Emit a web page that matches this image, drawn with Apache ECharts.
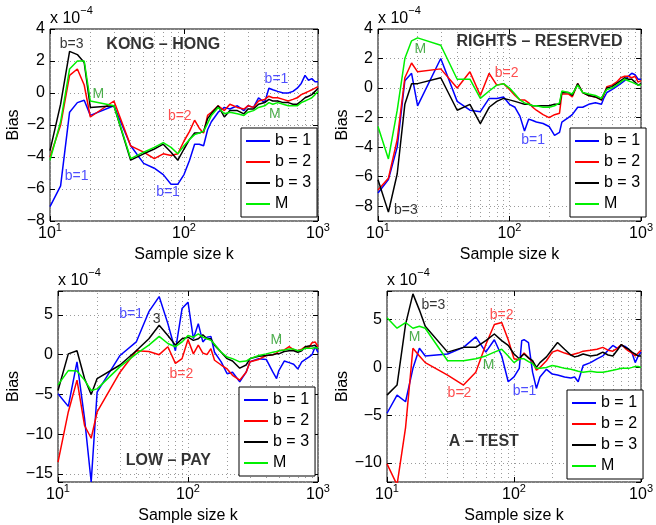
<!DOCTYPE html>
<html><head><meta charset="utf-8">
<script src="https://cdn.jsdelivr.net/npm/echarts@6/dist/echarts.min.js"></script>
<style>html,body{margin:0;padding:0;background:#fff}#c{width:656px;height:525px}</style>
</head><body><div id="c"></div>
<script>
// ---------- DATA (values in units of 1e-4) ----------
const SERIES_NAMES = ['b = 1', 'b = 2', 'b = 3', 'M'];
const X_TICKS = [10, 100, 1000];
const MINOR_X = [20,30,40,50,60,70,80,90,200,300,400,500,600,700,800,900];

// Panel 1: KONG – HONG
const K1 = [10,12,14,16,18,20,30,40,50,60,70,80,90,100,110,120,130,140,150,160,180,200,220,250,280,300,330,360,400,430,460,500,550,600,650,700,750,800,850,900,950,1000];
const P1_b1 = [-7.1,-5.8,-1.2,-0.6,-0.45,-1.4,-0.8,-3.3,-4.4,-4.7,-5.1,-5.7,-5.7,-5.1,-4.2,-3.2,-3.2,-3.3,-2.3,-1.8,-1.2,-0.9,-1.0,-0.8,-1.1,-0.8,-0.9,-0.3,-0.6,0.3,0.2,0.1,0.0,0.0,0.1,0.3,0.6,1.1,0.8,0.9,0.7,0.7];
const P1_b2 = [-4.0,-2.0,1.1,1.5,0.5,-1.5,-0.5,-3.3,-3.7,-4.1,-3.8,-3.9,-3.8,-3.0,-2.4,-1.7,-2.2,-2.5,-1.4,-1.2,-0.8,-1.1,-0.7,-0.9,-1.0,-0.8,-0.9,-0.5,-0.4,-0.2,-0.3,-0.3,-0.4,-0.5,-0.4,-0.3,-0.1,0.0,0.1,0.2,0.3,0.4];
const P1_b3 = [-3.6,-0.7,2.6,2.4,1.9,-0.9,-0.8,-4.2,-3.8,-3.5,-3.2,-3.7,-4.2,-3.5,-2.9,-2.5,-2.5,-2.4,-1.6,-1.3,-0.8,-1.5,-1.1,-1.1,-1.3,-1.0,-1.0,-0.7,-0.6,-0.4,-0.5,-0.5,-0.6,-0.6,-0.7,-0.7,-0.5,-0.3,-0.2,-0.1,0.1,0.3];
const P1_M  = [-4.2,-1.8,1.5,2.0,2.0,-0.5,-0.8,-4.1,-3.7,-3.4,-3.1,-3.4,-3.8,-3.3,-2.9,-2.6,-2.5,-2.4,-1.9,-1.4,-0.9,-1.3,-1.2,-1.3,-1.4,-1.2,-1.1,-0.9,-0.8,-0.6,-0.7,-0.6,-0.7,-0.8,-0.8,-0.8,-0.6,-0.5,-0.4,-0.3,-0.1,0.1];

// Panel 2: RIGHTS – RESERVED
const K2 = [10,12,14,16,18,20,30,40,50,60,70,80,90,100,110,120,130,140,150,160,180,200,220,240,250,280,300,330,360,400,450,500,520,550,600,650,700,750,800,850,900,950,1000];
const P2_b1 = [-7.1,-6.2,-4.0,0.5,1.0,-1.2,2.0,-0.9,-1.5,-1.6,-0.7,-0.7,-0.6,-1.1,-1.3,-1.9,-2.9,-2.1,-2.2,-2.3,-2.4,-2.6,-3.2,-3.0,-2.3,-2.0,-1.8,-1.3,-1.3,-1.1,-1.0,-1.1,-0.7,-0.3,-0.1,0.1,0.3,0.5,0.8,1.0,0.9,0.6,0.6];
const P2_b2 = [-6.9,-6.1,-3.5,0.7,1.7,1.1,1.3,0.0,1.1,-0.5,1.0,0.2,0.3,-0.1,-0.5,-0.8,-0.8,-1.0,-1.3,-1.5,-1.8,-2.0,-1.8,-1.7,-0.4,-0.4,-0.6,0.3,-0.3,-0.5,-0.6,-0.8,-0.5,0.1,0.2,0.4,0.7,0.8,0.8,0.7,0.8,0.4,0.5];
const P2_b3 = [-6.2,-8.4,-5.8,-1.1,0.3,0.3,0.7,-1.5,-1.1,-2.4,-1.3,-0.9,-0.7,-0.8,-0.9,-1.0,-1.1,-1.1,-1.2,-1.2,-1.2,-1.2,-1.1,-1.1,-0.3,-0.3,-0.5,0.3,-0.3,-0.5,-0.6,-0.8,-0.4,0.0,0.1,0.3,0.5,0.7,0.6,0.6,0.4,0.2,0.3];
const P2_M  = [-2.6,-4.8,-1.5,2.0,3.2,3.4,2.9,0.6,0.6,-0.7,-0.2,0.2,0.3,0.0,-0.4,-0.8,-1.0,-1.1,-1.2,-1.2,-1.3,-1.3,-1.2,-1.0,-0.2,-0.3,-0.4,0.2,-0.3,-0.4,-0.5,-0.7,-0.4,-0.1,0.0,0.2,0.4,0.6,0.5,0.4,0.3,0.2,0.2];

// Panel 3: LOW – PAY
const K3 = [10,12,14,16,18,20,30,40,50,60,70,80,90,100,110,120,130,140,150,160,180,200,220,250,280,300,350,400,450,480,500,550,600,650,700,750,800,850,900,950,1000];
const P3_b1 = [-4.9,-6.5,-0.9,-8.0,-16.0,-4.7,-0.1,1.6,5.4,7.3,3.9,0.5,5.8,6.6,2.0,3.9,1.6,2.2,2.3,0.3,-0.9,-2.4,-2.2,-3.4,-2.2,-0.9,-0.5,-0.6,-2.2,-3.0,-2.0,-0.8,-1.0,-1.2,-1.8,-0.9,-0.6,-0.3,0.0,1.0,0.3];
const P3_b2 = [-13.5,-7.2,-3.2,-8.9,-10.5,-7.2,-2.2,0.5,0.4,0.0,1.0,-1.1,-0.5,1.9,0.1,1.2,0.2,0.0,0.75,-0.7,-1.3,-1.8,-2.6,-3.2,-2.2,-0.9,-0.6,-0.1,0.0,0.2,0.5,0.6,1.0,0.6,0.5,0.7,1.0,0.9,1.5,1.6,1.0];
const P3_b3 = [-4.5,0.1,0.5,-3.0,-5.0,-3.0,-1.3,0.5,2.0,3.7,2.4,1.2,2.0,2.2,1.8,2.0,2.5,2.0,2.0,1.2,0.3,-0.5,-0.8,-1.7,-1.3,-0.5,-0.2,-0.1,0.0,0.1,0.1,0.4,0.5,0.5,0.3,0.5,1.0,1.1,1.1,1.2,0.7];
const P3_M  = [-3.8,-2.0,-2.05,-3.2,-4.5,-4.3,-1.5,0.1,1.2,2.3,1.4,1.0,1.6,2.4,2.2,2.6,2.2,2.0,1.8,1.3,0.3,-0.3,-0.5,-0.9,-0.8,-0.5,-0.1,0.1,0.3,0.4,0.5,0.6,0.7,0.7,0.5,0.6,0.8,0.8,0.8,0.9,0.8];

// Panel 4: A – TEST
const K4 = [10,12,14,16,18,20,30,40,50,60,70,80,90,100,110,115,120,130,140,150,160,180,200,220,250,280,300,320,350,400,450,500,550,600,650,700,750,800,850,900,950,1000];
const P4_b1 = [-4.8,-2.9,-3.6,-0.1,2.0,1.2,1.4,2.1,3.2,1.6,2.9,1.2,-1.5,-1.0,-0.1,2.8,2.9,2.6,-0.5,-2.2,-1.0,-0.2,-0.7,-0.8,-1.0,-1.1,-1.0,-1.5,0.2,0.5,0.9,1.2,1.8,2.3,2.0,2.3,2.2,1.9,1.5,0.5,1.2,1.6];
const P4_b2 = [-10.1,-12.3,-6.3,2.0,1.2,0.5,-0.8,-1.85,-0.5,2.4,4.5,4.7,2.9,0.9,0.8,1.2,1.5,1.0,0.6,-0.3,0.0,0.7,1.6,1.8,1.5,1.3,1.4,1.5,1.7,1.8,1.9,2.1,1.8,1.7,2.0,2.4,2.0,1.7,1.5,1.2,1.5,1.8];
const P4_b3 = [-2.9,-1.85,4.5,7.7,6.0,4.3,1.6,2.1,2.1,2.8,3.5,2.8,2.3,1.4,0.9,1.2,1.4,1.0,0.7,0.0,0.5,1.1,1.9,2.6,1.9,1.3,1.1,1.2,1.4,1.2,1.3,1.6,1.3,1.2,1.8,2.4,2.1,1.9,1.6,1.4,1.2,1.2];
const P4_M  = [5.2,4.1,4.7,4.1,4.3,4.1,0.7,0.7,0.9,1.2,1.6,1.9,1.2,0.5,0.9,0.9,0.9,0.6,0.4,-0.1,-0.1,0.0,0.2,0.1,-0.1,-0.2,-0.3,-0.4,-0.5,-0.4,-0.5,-0.5,-0.4,-0.3,-0.2,-0.1,-0.1,-0.1,0.0,0.1,0.1,0.0];

const PANELS = [
  {k: K1, ys: [P1_b1, P1_b2, P1_b3, P1_M], yMin: -8, yMax: 4, split: 6, step: 2},
  {k: K2, ys: [P2_b1, P2_b2, P2_b3, P2_M], yMin: -9, yMax: 4, split: 6, step: 2},
  {k: K3, ys: [P3_b1, P3_b2, P3_b3, P3_M], yMin: -16, yMax: 8, split: 5, step: 5},
  {k: K4, ys: [P4_b1, P4_b2, P4_b3, P4_M], yMin: -12, yMax: 8, split: 4, step: 5}
];

// annotations: [k, value, text, colour key, bold]
const NOTES = [
  [[14.5,3.06,'b=3','k'],[70,3.0,'KONG – HONG','k',1],[22.9,-0.05,'M','g'],[490,0.87,'b=1','b'],[477,-1.3,'M','g'],[93,-1.47,'b=2','r'],[15.8,-5.2,'b=1','b'],[76,-6.2,'b=1','b']],
  [[169,3.16,'RIGHTS – RESERVED','k',1],[21,2.64,'M','g'],[95,1.0,'b=2','r'],[151,-3.5,'b=1','b'],[16.3,-8.27,'b=3','k']],
  [[36.5,5.15,'b=1','b'],[57.5,4.5,'3','k'],[89,-2.4,'b=2','r'],[479,1.8,'M','g'],[70.6,-13.3,'LOW – PAY','k',1]],
  [[23.2,6.5,'b=3','k'],[80,5.5,'b=2','r'],[16.5,3.2,'M','g'],[63,0.2,'M','g'],[37.2,-2.7,'b=2','r'],[121,-2.5,'b=1','b'],[57.8,-7.8,'A – TEST','k',1]]
];

// ---------- LAYOUT / STYLE ----------
const FONT = "'Liberation Sans', Arial, Helvetica, sans-serif";
const LINE_COLORS = ['#0000ff', '#ff0000', '#000000', '#00f000'];
const NOTE_COLORS = {b: '#2222ff', r: '#ff2222', k: '#000000', g: '#1f9a1f'};
const GRIDS = [
  {left: 50, top: 29, width: 268, height: 192},
  {left: 378, top: 29, width: 269, height: 192},
  {left: 58, top: 291, width: 260, height: 192},
  {left: 387, top: 291, width: 260, height: 192}
];
const YNAME_GAP = [28, 25, 34, 34];
const LEGENDS = [{left: 241, top: 128}, {left: 570, top: 128}, {left: 239, top: 387}, {left: 567, top: 390}];
const GRIDLINE = {color: '#9a9a9a', type: [1, 3], width: 1};
const TICK = {show: true, inside: true, length: 5, lineStyle: {color: '#000'}};

const option = {
  animation: false,
  backgroundColor: '#fff',
  textStyle: {fontFamily: FONT},
  grid: GRIDS.map(g => Object.assign({show: true, borderColor: '#000', borderWidth: 1, backgroundColor: '#fff', containLabel: false}, g)),
  xAxis: [], yAxis: [], series: [], legend: [], graphic: []
};

PANELS.forEach((p, i) => {
  option.xAxis.push({
    type: 'log', logBase: 10, min: 10, max: 1000, gridIndex: i, position: 'bottom',
    axisLine: {show: false, onZero: false},
    axisTick: TICK,
    axisLabel: {
      color: '#000', margin: 1,
      formatter: v => '{b|10}{s|' + Math.round(Math.log10(v)) + '}',
      rich: {b: {fontSize: 16, lineHeight: 24, fontFamily: FONT, color: '#000'},
             s: {fontSize: 11, lineHeight: 8, verticalAlign: 'top', fontFamily: FONT, color: '#000'}}
    },
    splitLine: {show: true, lineStyle: GRIDLINE},
    name: 'Sample size k', nameLocation: 'middle', nameGap: 26,
    nameTextStyle: {fontSize: 16, color: '#000', fontFamily: FONT}
  });
  option.yAxis.push({
    type: 'value', min: p.yMin, max: p.yMax, splitNumber: p.split, gridIndex: i, position: 'left',
    axisLine: {show: false, onZero: false},
    axisTick: TICK,
    axisLabel: {color: '#000', fontSize: 16, margin: 5, fontFamily: FONT,
      formatter: v => (v % p.step !== 0) ? '' : String(v).replace('-', '\u2212')},
    splitLine: {show: true, lineStyle: GRIDLINE},
    name: 'Bias', nameLocation: 'middle', nameGap: YNAME_GAP[i], nameRotate: 90,
    nameTextStyle: {fontSize: 16, color: '#000', fontFamily: FONT}
  });
});
// secondary (top / right) axes for the inner ticks on the box
PANELS.forEach((p, i) => {
  option.xAxis.push({type: 'log', logBase: 10, min: 10, max: 1000, gridIndex: i, position: 'top',
    axisLine: {show: false, onZero: false}, axisLabel: {show: false}, splitLine: {show: false},
    axisTick: TICK});
  option.yAxis.push({type: 'value', min: p.yMin, max: p.yMax, splitNumber: p.split, gridIndex: i, position: 'right',
    axisLine: {show: false, onZero: false}, axisLabel: {show: false}, splitLine: {show: false},
    axisTick: TICK});
});

PANELS.forEach((p, i) => {
  p.ys.forEach((ys, j) => {
    const s = {
      type: 'line', name: SERIES_NAMES[j], xAxisIndex: i, yAxisIndex: i,
      data: p.k.map((k, n) => [k, ys[n]]),
      showSymbol: false, symbol: 'none', clip: true,
      lineStyle: {color: LINE_COLORS[j], width: 1.5},
      itemStyle: {color: LINE_COLORS[j]},
      z: 3 + j
    };
    if (j === 0) {
      s.markLine = {silent: true, symbol: ['none', 'none'], label: {show: false},
        lineStyle: GRIDLINE, emphasis: {disabled: true}, z: 1,
        data: MINOR_X.map(v => ({xAxis: v}))};
    }
    option.series.push(s);
  });
  option.series.push({
    type: 'scatter', name: 'notes' + i, xAxisIndex: i, yAxisIndex: i, silent: true,
    symbolSize: 1, itemStyle: {color: 'rgba(0,0,0,0)'}, z: 20,
    data: NOTES[i].map(n => ({
      value: [n[0], n[1]],
      label: {show: true, position: 'inside', formatter: n[2], color: NOTE_COLORS[n[3]],
        fontSize: n[4] ? 16 : 14, fontWeight: n[4] ? 'bold' : 'normal', fontFamily: FONT}
    }))
  });
  option.legend.push(Object.assign({
    orient: 'vertical', data: SERIES_NAMES, icon: 'rect', itemWidth: 24, itemHeight: 2, itemGap: 5,
    textStyle: {fontSize: 16, color: '#000', fontFamily: FONT},
    borderColor: '#000', borderWidth: 1, backgroundColor: '#fff', borderRadius: 0,
    padding: [5, 6, 5, 5], selectedMode: false, z: 30
  }, LEGENDS[i]));
  option.graphic.push({
    type: 'text', left: GRIDS[i].left, top: GRIDS[i].top - 24,
    style: {text: '{a|x 10}{e|\u22124}', rich: {
      a: {fontSize: 16, lineHeight: 22, fontFamily: FONT, fill: '#000', verticalAlign: 'bottom'},
      e: {fontSize: 11, lineHeight: 8, fontFamily: FONT, fill: '#000', verticalAlign: 'top'}}}
  });
});

const chart = echarts.init(document.getElementById('c'), null, {renderer: 'canvas'});
chart.setOption(option);
</script>
</body></html>
